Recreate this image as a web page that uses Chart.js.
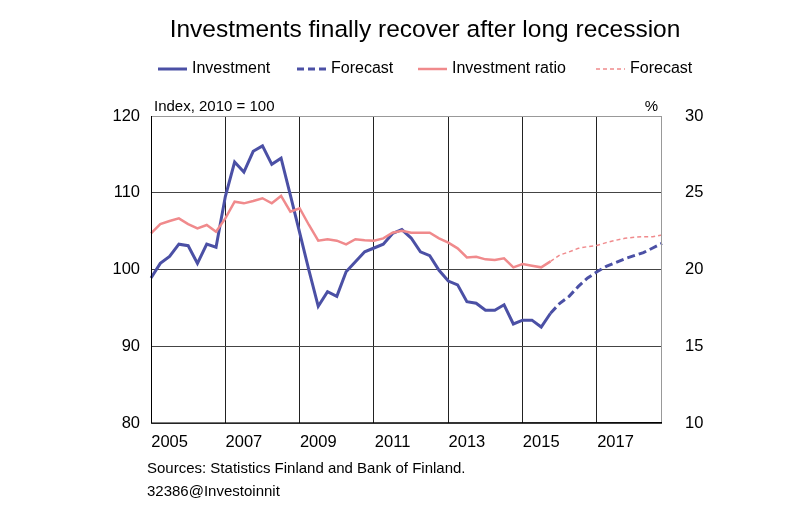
<!DOCTYPE html>
<html><head><meta charset="utf-8">
<script src="https://cdn.jsdelivr.net/npm/chart.js@4"></script>
<style>html,body{margin:0;padding:0;background:#fff}#w{position:relative;width:800px;height:522px}</style>
</head><body><div id="w"><canvas id="c" width="800" height="522"></canvas></div>
<script>
const years = [2005,2006,2007,2008,2009,2010,2011,2012,2013,2014,2015,2016,2017,2018];
const quarters = [];
years.forEach(y => [1,2,3,4].forEach(q => quarters.push(y + 'Q' + q)));
const investment = [98.9,100.8,101.7,103.3,103.1,100.8,103.3,102.9,109.5,114.0,112.7,115.4,116.1,113.7,114.5,109.7,104.8,99.9,95.2,97.1,96.5,99.7,101.0,102.3,102.8,103.3,104.7,105.2,104.1,102.3,101.8,99.9,98.5,98.0,95.8,95.6,94.7,94.7,95.4,92.9,93.4,93.4,92.5,94.3];
const investmentForecast = [94.3,95.6,96.5,97.8,98.9,99.7,100.4,100.9,101.4,101.8,102.2,102.8,103.4];
const ratio = [22.36,22.96,23.16,23.33,22.96,22.68,22.9,22.46,23.33,24.42,24.31,24.46,24.64,24.31,24.79,23.77,23.99,22.9,21.88,21.97,21.88,21.64,21.97,21.9,21.88,22.03,22.4,22.53,22.4,22.4,22.4,22.03,21.75,21.38,20.79,20.83,20.66,20.62,20.73,20.14,20.36,20.25,20.14,20.53];
const ratioForecast = [20.53,20.94,21.15,21.38,21.49,21.57,21.75,21.9,22.03,22.1,22.14,22.14,22.25];
const leftTicks = [80,90,100,110,120];
const rightTicks = [10,15,20,25,30];

const pad = (arr, start) => Array(start).fill(null).concat(arr);
const BLUE = '#4B50A5', PINK = '#F08A8C', FONT = '"Liberation Sans", Arial, sans-serif';

const deco = {
  id: 'deco',
  afterDraw(chart) {
    const c = chart.ctx, a = chart.chartArea;
    c.save();
    c.fillStyle = '#000';
    c.font = '24.5px ' + FONT; c.textAlign = 'center'; c.textBaseline = 'middle';
    c.fillText('Investments finally recover after long recession', 425, 30);
    c.font = '16px ' + FONT; c.textAlign = 'left';
    const items = [
      [158, 'Investment', BLUE, 3, []],
      [297, 'Forecast', BLUE, 3, [7, 4]],
      [418, 'Investment ratio', PINK, 2.5, []],
      [596, 'Forecast', PINK, 1.5, [4, 3]]
    ];
    items.forEach(([x, t, col, lw, d]) => {
      c.strokeStyle = col; c.lineWidth = lw; c.setLineDash(d);
      c.beginPath(); c.moveTo(x, 69); c.lineTo(x + 29, 69); c.stroke();
      c.fillText(t, x + 34, 69);
    });
    c.setLineDash([]);
    c.font = '15px ' + FONT; c.textBaseline = 'alphabetic';
    c.fillText('Index, 2010 = 100', a.left + 3, a.top - 5);
    c.textAlign = 'right'; c.fillText('%', a.right - 4, a.top - 5);
    c.textAlign = 'left';
    c.fillText('Sources: Statistics Finland and Bank of Finland.', 147, 473);
    c.fillText('32386@Investoinnit', 147, 496);
    c.lineWidth = 1;
    c.strokeStyle = '#999';
    c.beginPath(); c.moveTo(a.left, a.top + 0.5); c.lineTo(a.right, a.top + 0.5); c.moveTo(a.right - 0.5, a.top); c.lineTo(a.right - 0.5, a.bottom); c.stroke();
    c.strokeStyle = '#000';
    c.beginPath(); c.moveTo(a.left + 0.5, a.top); c.lineTo(a.left + 0.5, a.bottom); c.lineTo(a.right, a.bottom - 0.5); c.stroke();
    c.restore();
  }
};

new Chart(document.getElementById('c'), {
  type: 'line',
  data: {
    labels: quarters,
    datasets: [
      { data: ratio, borderColor: PINK, borderWidth: 2.5, yAxisID: 'y2', pointRadius: 0, tension: 0 },
      { data: pad(ratioForecast, 43), borderColor: PINK, borderWidth: 1.5, borderDash: [4, 3], yAxisID: 'y2', pointRadius: 0 },
      { data: investment, borderColor: BLUE, borderWidth: 3, yAxisID: 'y', pointRadius: 0 },
      { data: pad(investmentForecast, 43), borderColor: BLUE, borderWidth: 3, borderDash: [8, 4], yAxisID: 'y', pointRadius: 0 }
    ]
  },
  options: {
    responsive: false, animation: false,
    layout: { padding: { top: 116, left: 0, right: 0, bottom: 0 } },
    plugins: { legend: { display: false }, tooltip: { enabled: false } },
    scales: {
      x: {
        offset: false,
        grid: { color: ctx => (ctx.index % 8 === 0 && ctx.index > 0) ? '#222' : 'rgba(0,0,0,0)', drawTicks: false },
        border: { display: false },
        ticks: { autoSkip: false, maxRotation: 0, padding: 10, color: '#000', font: { size: 16.5, family: FONT },
          callback: (v, i) => (i % 8 === 2) ? quarters[i].slice(0, 4) : '' },
        afterFit: s => { s.height = 99; }
      },
      y: {
        position: 'left', min: 80, max: 120,
        afterBuildTicks: s => { s.ticks = leftTicks.map(v => ({ value: v })); },
        grid: { color: '#444', drawTicks: false },
        border: { display: false },
        ticks: { padding: 11, color: '#000', font: { size: 16.5, family: FONT } },
        afterFit: s => { s.width = 151; }
      },
      y2: {
        position: 'right', min: 10, max: 30,
        afterBuildTicks: s => { s.ticks = rightTicks.map(v => ({ value: v })); },
        grid: { display: false },
        border: { display: false },
        ticks: { padding: 15, color: '#000', font: { size: 16.5, family: FONT } },
        afterFit: s => { s.width = 138; }
      }
    }
  },
  plugins: [deco]
});
</script></body></html>
